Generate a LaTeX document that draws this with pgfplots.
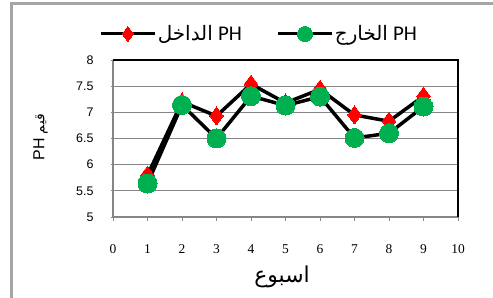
\documentclass[border=0pt]{standalone}
\usepackage{pgfplots}
\pgfplotsset{compat=1.18}
\usepackage{fontspec}
\setmainfont{Liberation Serif}
\newfontfamily\arialf{Liberation Sans}
\newfontfamily\carlito{Carlito}
\newfontfamily\arabicfont[Script=Arabic]{DejaVu Sans}
\TeXXeTstate=1
\definecolor{exgreen}{RGB}{0,176,80}
\definecolor{framegray}{RGB}{165,165,165}
\definecolor{gridgray}{RGB}{134,134,134}
\begin{document}
\begin{tikzpicture}
\useasboundingbox (0,0) rectangle (493bp,298bp);
\draw[framegray,line width=3bp] (11.7bp,-5bp) -- (11.7bp,294.5bp) -- (500bp,294.5bp);
\begin{axis}[
  at={(113bp,81bp)}, anchor=south west,
  scale only axis, width=345bp, height=157bp,
  xmin=0, xmax=10, ymin=5, ymax=8,
  xtick={0,1,...,10},
  ytick={5,5.5,6,6.5,7,7.5,8},
  minor y tick num=4,
  ymajorgrids,
  major grid style={gridgray,line width=1.2bp},
  axis line style={draw=none},
  tick style={gridgray,line width=0.8bp},
  major tick length=4bp, minor tick length=3bp,
  xtick pos=bottom, ytick pos=left,
  xtick align=outside, ytick align=center,
  /pgf/number format/assume math mode=true,
  xticklabel style={font=\fontsize{13.5}{15}\selectfont, yshift=-20bp},
  yticklabel style={font=\arialf\fontsize{12.5}{15}\selectfont, xshift=-14bp},
  legend columns=2,
  legend style={at={(axis description cs:0.423,1.166)}, anchor=center, draw=none, fill=none,
    font=\fontsize{21}{24}\selectfont, nodes={inner sep=1.5bp},
    /tikz/every even column/.append style={column sep=33bp}},
  legend image code/.code={\draw[mark repeat=2,mark phase=2,mark size=7.5bp,line width=3bp] plot coordinates {(0bp,0bp)(27bp,0bp)(54bp,0bp)};},
  clip=false,
]
\addplot[black, line width=3.5bp, mark=diamond*, mark size=9bp, mark options={fill=red, draw=red, line width=0pt}]
  coordinates {(1,5.8)(2,7.2)(3,6.93)(4,7.54)(5,7.18)(6,7.44)(7,6.95)(8,6.83)(9,7.31)};
\addlegendentry{\beginR{\carlito PH} {\arabicfont\fontsize{20}{22}\selectfont الداخل}\endR}
\addplot[black, line width=3.5bp, mark=*, mark size=9.5bp, mark options={fill=exgreen, draw=exgreen, line width=0pt}]
  coordinates {(1,5.64)(2,7.14)(3,6.5)(4,7.31)(5,7.13)(6,7.3)(7,6.51)(8,6.6)(9,7.11)};
\addlegendentry{\beginR{\carlito PH} {\arabicfont\fontsize{20}{22}\selectfont الخارج}\endR}
\draw[gridgray, line width=1.5bp] (rel axis cs:0,1) -- (rel axis cs:0,0) -- (rel axis cs:1,0);
\draw[black, line width=1.5bp] (rel axis cs:0,1) -- (rel axis cs:1,1) -- (rel axis cs:1,0);
\node[font=\arabicfont\fontsize{22}{26}\selectfont] at (axis description cs:0.49,-0.379) {\beginR اسبوع\endR};
\node[rotate=90, font=\arialf\fontsize{16}{19}\selectfont] at (axis description cs:-0.21,0.508) {\beginR{\arabicfont\fontsize{14}{16}\selectfont قيم} PH\endR};
\end{axis}
\end{tikzpicture}
\end{document}
